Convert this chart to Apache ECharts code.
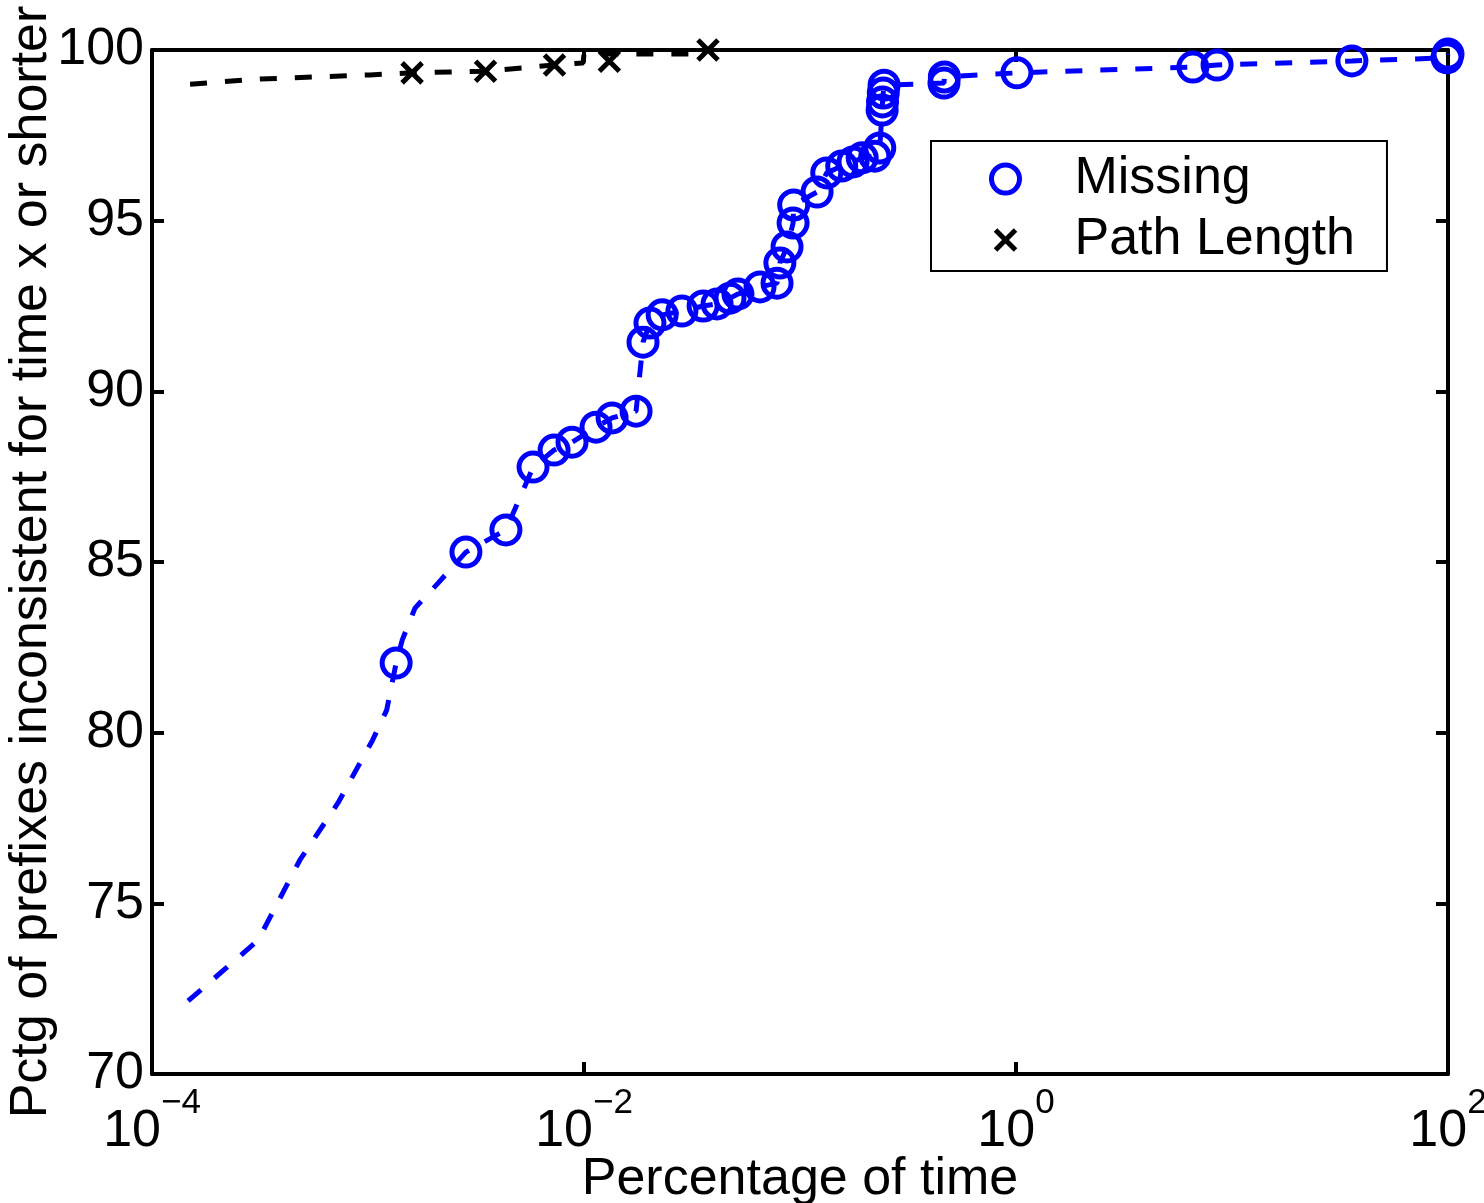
<!DOCTYPE html>
<html>
<head>
<meta charset="utf-8">
<script src="https://cdn.jsdelivr.net/npm/echarts@6/dist/echarts.min.js"></script>
<style>
html,body{margin:0;padding:0;background:#fff;}
#c{width:1484px;height:1203px;}
</style>
</head>
<body>
<div id="c"></div>
<script>
// ---- Data ----
// "Missing" markers (x = percentage of time, y = pctg of prefixes)
var missingX = [0.00135, 0.00284, 0.00435, 0.00581, 0.00727, 0.00880, 0.01137, 0.01349, 0.01742, 0.01876,
  0.0202, 0.0230, 0.0284, 0.0356, 0.0413, 0.0474, 0.0516, 0.0653, 0.0783, 0.0807,
  0.0871, 0.0929, 0.0935, 0.120, 0.133, 0.156, 0.176, 0.194, 0.222, 0.234,
  0.240, 0.241, 0.243, 0.245, 0.464, 0.466, 1.01, 6.59, 8.53, 35.9, 98.9, 100];
var missingY = [82.04, 85.29, 85.94, 87.78, 88.28, 88.51, 88.95, 89.22, 89.42, 91.44,
  92.00, 92.24, 92.35, 92.50, 92.56, 92.73, 92.85, 93.06, 93.17, 93.76,
  94.23, 94.93, 95.46, 95.84, 96.40, 96.60, 96.72, 96.84, 96.89, 97.13,
  98.24, 98.48, 98.74, 98.97, 99.03, 99.21, 99.33, 99.50, 99.56, 99.68, 99.77, 99.88];
// extra vertices of the dashed "Missing" curve that carry no marker
var missingCurveX = [1.47e-4, 3.10e-4, 4.84e-4, 7.26e-4, 1.05e-3, 1.22e-3, 1.44e-3, 1.65e-3, 2.11e-3];
var missingCurveY = [72.14, 73.92, 76.27, 77.94, 79.78, 80.66, 82.71, 83.65, 84.38];

// "Path Length" markers
var pathX = [0.0016, 0.0035, 0.0073, 0.0131, 0.0375];
var pathY = [99.33, 99.38, 99.56, 99.67, 100.0];
// dashed "Path Length" curve
var pathCurveX = [1.50e-4, 3.16e-4, 1.02e-3, 0.0016, 0.0035, 0.0073, 0.0099, 0.0100, 0.031, 0.0375];
var pathCurveY = [99.00, 99.15, 99.27, 99.33, 99.38, 99.56, 99.62, 99.88, 99.88, 100.0];

var yTicks = [70, 75, 80, 85, 90, 95, 100];

function zip(xs, ys) { return xs.map(function (x, i) { return [x, ys[i]]; }); }
var missingLine = zip(missingCurveX, missingCurveY).concat(zip(missingX, missingY))
  .sort(function (a, b) { return a[0] - b[0]; });

var FONT = 'Liberation Sans, Arial, Helvetica, sans-serif';
var BLUE = '#0000ff';
var xPath = 'path://M0,0M28,28M4,4L24,24M24,4L4,24';

var chart = echarts.init(document.getElementById('c'), null, { renderer: 'canvas' });

var axisLineStyle = { color: '#000', width: 4 };
var option = {
  backgroundColor: '#fff',
  animation: false,
  grid: { left: 152, right: 36, top: 50, bottom: 129, containLabel: false, outerBoundsMode: 'none' },
  legend: {
    orient: 'vertical',
    left: 931, top: 141,
    padding: [12, 32, 5, 58],
    backgroundColor: '#fff',
    borderColor: '#000',
    borderWidth: 2,
    borderRadius: 0,
    itemWidth: 28,
    itemHeight: 28,
    itemGap: 9,
    itemStyle: { borderWidth: 5, opacity: 1 },
    textStyle: { fontFamily: FONT, fontSize: 52, color: '#000', lineHeight: 52, padding: [0, 0, 0, 50] },
    data: [
      { name: 'Missing', icon: 'circle' },
      { name: 'Path Length', icon: xPath }
    ]
  },
  xAxis: [{
    type: 'log', logBase: 10, min: 1e-4, max: 100, interval: 2,
    position: 'bottom',
    name: 'Percentage of time', nameLocation: 'middle', nameGap: 80, nameMoveOverlap: false,
    nameTextStyle: { fontFamily: FONT, fontSize: 52, color: '#000' },
    axisLine: { show: true, lineStyle: axisLineStyle },
    axisTick: { show: true, inside: true, length: 12, lineStyle: { color: '#000', width: 4 } },
    minorTick: { show: false },
    splitLine: { show: false },
    axisLabel: {
      margin: 12,
      formatter: function (v) {
        var e = Math.round(Math.log(v) / Math.LN10);
        return '{b|10}{s|' + String(e).replace('-', '\u2212') + '}';
      },
      rich: {
        b: { fontFamily: FONT, fontSize: 52, color: '#000', lineHeight: 52, padding: [40, 0, 0, 0] },
        s: { fontFamily: FONT, fontSize: 35, color: '#000', lineHeight: 35, verticalAlign: 'top' }
      }
    }
  }, {
    type: 'log', logBase: 10, min: 1e-4, max: 100, interval: 2,
    position: 'top',
    axisLine: { show: true, lineStyle: axisLineStyle },
    axisTick: { show: true, inside: true, length: 12, lineStyle: { color: '#000', width: 4 } },
    axisLabel: { show: false },
    splitLine: { show: false }
  }],
  yAxis: [{
    type: 'value', min: 70, max: 100, interval: 5,
    position: 'left',
    name: 'Pctg of prefixes inconsistent for time x or shorter',
    nameLocation: 'middle', nameGap: 94, nameMoveOverlap: false,
    nameTextStyle: { fontFamily: FONT, fontSize: 52, color: '#000' },
    axisLine: { show: true, lineStyle: axisLineStyle },
    axisTick: { show: true, inside: true, length: 12, lineStyle: { color: '#000', width: 4 } },
    splitLine: { show: false },
    axisLabel: {
      margin: 8, fontFamily: FONT, fontSize: 52, color: '#000',
      formatter: function (v) { return yTicks.indexOf(v) >= 0 ? String(v) : ''; }
    }
  }, {
    type: 'value', min: 70, max: 100, interval: 5,
    position: 'right',
    axisLine: { show: true, lineStyle: axisLineStyle },
    axisTick: { show: true, inside: true, length: 12, lineStyle: { color: '#000', width: 4 } },
    axisLabel: { show: false },
    splitLine: { show: false }
  }],
  series: [
    {
      name: 'Missing curve', type: 'line', xAxisIndex: 0, yAxisIndex: 0,
      data: missingLine, showSymbol: false, symbol: 'none', clip: true,
      lineStyle: { color: BLUE, width: 5, type: [17, 18] }, z: 2
    },
    {
      name: 'Missing', type: 'scatter', xAxisIndex: 0, yAxisIndex: 0,
      data: zip(missingX, missingY), symbol: 'circle', symbolSize: 28, clip: false,
      itemStyle: { color: 'rgba(0,0,0,0)', borderColor: BLUE, borderWidth: 5, opacity: 1 }, z: 3
    },
    {
      name: 'Path curve', type: 'line', xAxisIndex: 0, yAxisIndex: 0,
      data: zip(pathCurveX, pathCurveY), showSymbol: false, symbol: 'none', clip: true,
      lineStyle: { color: '#000', width: 5, type: [17, 18] }, z: 2
    },
    {
      name: 'Path Length', type: 'scatter', xAxisIndex: 0, yAxisIndex: 0,
      data: zip(pathX, pathY), symbol: xPath, symbolSize: 28, clip: false,
      itemStyle: { color: 'rgba(0,0,0,0)', borderColor: '#000', borderWidth: 5, opacity: 1 }, z: 3
    }
  ]
};
chart.setOption(option);
</script>
</body>
</html>
